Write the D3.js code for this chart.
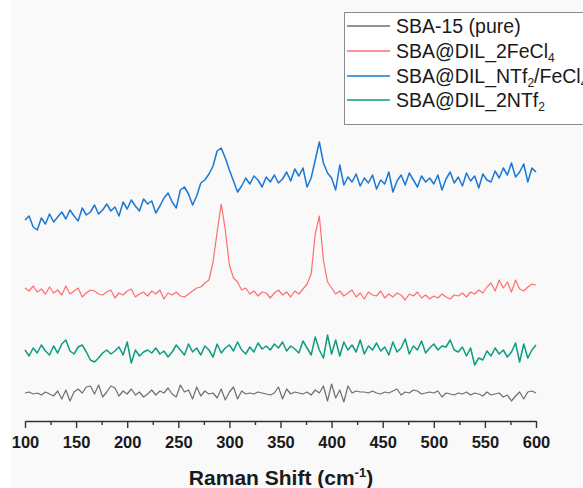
<!DOCTYPE html>
<html>
<head>
<meta charset="utf-8">
<script src="https://cdn.jsdelivr.net/npm/d3@7"></script>
<style>
  body { margin: 0; background: #fff; }
  svg { display: block; font-family: "Liberation Sans", Arial, sans-serif; }
</style>
</head>
<body>
<svg id="chart"></svg>
<script>
// Variables
var width = 583;
var height = 488;

// Raman shift axis (cm-1), sampled every 4 cm-1 from 100 to 600
var shiftStart = 100;
var shiftStep = 4;
var tickLabels = [100, 150, 200, 250, 300, 350, 400, 450, 500, 550, 600];
var minorTicks = [125, 175, 225, 275, 325, 375, 425, 475, 525, 575];

// intensities (a.u., offset spectra)
var sbaPure = [
  37, 38, 36, 37, 35, 38, 36, 34, 39, 31,
  40, 29, 38, 41, 37, 43, 44, 36, 45, 33,
  38, 44, 42, 34, 39, 36, 41, 35, 38, 33,
  36, 40, 35, 39, 37, 42, 36, 33, 45, 38,
  40, 31, 43, 34, 39, 36, 37, 32, 41, 30,
  38, 43, 31, 39, 36, 37, 36, 38, 37, 36,
  35, 37, 43, 31, 41, 36, 38, 37, 36, 38,
  35, 40, 37, 44, 29, 46, 32, 40, 28, 44,
  37, 39, 38, 38, 37, 39, 37, 36, 38, 37,
  39, 41, 35, 38, 37, 40, 39, 36, 37, 38,
  37, 39, 33, 37, 36, 35, 37, 36, 38, 35,
  37, 36, 34, 38, 35, 36, 37, 33, 35, 29,
  34, 38, 31, 38, 39, 37
];
var sbaFeCl4 = [
  142, 139, 144, 138, 141, 136, 143, 137, 140, 135,
  144, 136, 139, 142, 133, 137, 140, 139, 136, 135,
  138, 140, 132, 137, 135, 139, 141, 133, 136, 138,
  134, 139, 136, 140, 131, 137, 135, 138, 134, 133,
  136, 139, 142, 143, 147, 150, 168, 198, 226, 200,
  165, 152, 148, 140, 142, 136, 139, 134, 138, 137,
  132, 137, 140, 135, 138, 133, 139, 136, 141, 146,
  156, 196, 214, 170, 148, 142, 136, 139, 134, 137,
  140, 133, 137, 131, 138, 135, 134, 139, 132, 136,
  133, 137, 135, 130, 136, 134, 138, 132, 135, 131,
  134, 132, 136, 133, 131, 135, 134, 137, 133, 138,
  136, 140, 137, 143, 147, 139, 150, 142, 148, 138,
  150, 141, 139, 143, 146, 145
];
var sbaNTf2FeCl4 = [
  210, 214, 203, 200, 212, 206, 216, 208, 213, 218,
  211, 220, 214, 209, 222, 215, 218, 225, 216, 220,
  226, 219, 223, 214, 228, 221, 230, 224, 219, 231,
  226, 229, 217, 224, 232, 237, 228, 222, 240, 243,
  236, 225, 234, 247, 250, 256, 264, 279, 282, 272,
  260, 249, 238, 244, 252, 246, 254, 250, 243, 253,
  248, 255, 247, 251, 258, 249, 261, 254, 262, 243,
  252, 270, 288, 267, 257, 252, 240, 265, 245, 253,
  248, 256, 244, 252, 247, 255, 241, 250, 246, 258,
  238, 249, 255, 245, 257, 250, 243, 254, 248, 252,
  246, 255, 240, 251, 258, 247, 253, 244, 257, 249,
  254, 242, 256, 250, 248, 259, 252, 262, 255, 267,
  253, 258, 266, 248, 262, 258
];
var sba2NTf2 = [
  80, 74, 82, 77, 85, 79, 75, 84, 77, 86,
  90, 79, 76, 83, 85, 78, 70, 68, 72, 77,
  80, 76, 79, 83, 75, 88, 67, 80, 74, 78,
  80, 77, 82, 76, 79, 73, 78, 85, 80, 75,
  86, 78, 82, 75, 84, 80, 73, 86, 77, 82,
  85, 79, 88, 80, 76, 83, 78, 87, 81, 84,
  80, 86, 82, 88, 79, 84, 81, 77, 89, 82,
  75, 93, 80, 72, 95, 76, 90, 74, 88, 80,
  85, 78, 90, 76, 84, 80, 87, 79, 83, 75,
  88, 78, 82, 91, 76, 84, 80, 89, 77, 82,
  86, 80, 84, 83, 90, 80, 78, 83, 74, 82,
  65, 72, 70, 79, 74, 82, 76, 80, 73, 78,
  87, 68, 86, 72, 80, 85
];

var seriesNames = [
  [{t: 'SBA-15 (pure)'}],
  [{t: 'SBA@DIL_2FeCl'}, {t: '4', sub: true}],
  [{t: 'SBA@DIL_NTf'}, {t: '2', sub: true}, {t: '/FeCl'}, {t: '4', sub: true}],
  [{t: 'SBA@DIL_2NTf'}, {t: '2', sub: true}]
];
var seriesValues = [sbaPure, sbaFeCl4, sbaNTf2FeCl4, sba2NTf2];
var seriesColors = ['#6e6e6e', '#ff6e6e', '#1a78d2', '#0e9c7e'];
var seriesWidths = [1.2, 1.2, 1.5, 1.5];

var svg = d3.select('#chart')
    .attr('width', width)
    .attr('height', height);

// light plot background
svg.append('rect')
    .attr('x', 11).attr('y', 0)
    .attr('width', width - 11).attr('height', height)
    .attr('fill', '#f9f9f9');

var x = d3.scaleLinear().domain([100, 600]).range([25, 536]);
var y = d3.scaleLinear().domain([0, 430]).range([430, 0]);

var line = d3.line()
    .x(function(d, i) { return x(shiftStart + i * shiftStep); })
    .y(function(d) { return y(d); });

// spectra
svg.selectAll('path.spectrum')
    .data(seriesValues)
    .enter().append('path')
    .attr('class', 'spectrum')
    .attr('d', line)
    .attr('fill', 'none')
    .attr('stroke', function(d, i) { return seriesColors[i]; })
    .attr('stroke-width', function(d, i) { return seriesWidths[i]; })
    .attr('stroke-linejoin', 'round');

// x axis
var axisY = 421;
var gx = svg.append('g')
    .attr('transform', 'translate(0,' + axisY + ')')
    .call(d3.axisBottom(x).tickValues(tickLabels).tickSize(7).tickSizeOuter(0).tickPadding(8));
gx.selectAll('text')
    .attr('font-size', 16.5)
    .attr('font-weight', 'bold')
    .attr('font-family', '"Liberation Sans", Arial, sans-serif')
    .attr('fill', '#1a1a1a');
gx.select('.domain').attr('stroke', '#333').attr('stroke-width', 1.4);
gx.selectAll('.tick line').attr('stroke', '#333').attr('stroke-width', 1.4);

var gm = svg.append('g')
    .attr('transform', 'translate(0,' + axisY + ')')
    .call(d3.axisBottom(x).tickValues(minorTicks).tickSize(4).tickFormat(''));
gm.select('.domain').remove();
gm.selectAll('.tick line').attr('stroke', '#333').attr('stroke-width', 1.4);

// axis title
var title = svg.append('text')
    .attr('x', 281)
    .attr('y', 485)
    .attr('text-anchor', 'middle')
    .attr('font-size', 21)
    .attr('font-weight', 'bold')
    .attr('fill', '#1a1a1a');
title.append('tspan').text('Raman Shift (cm');
title.append('tspan').attr('font-size', 13).attr('dy', -8).text('-1');
title.append('tspan').attr('dy', 8).text(')');

// legend
var legend = svg.append('g');
legend.append('rect')
    .attr('x', 344.5).attr('y', 12.5)
    .attr('width', 260).attr('height', 112)
    .attr('fill', '#fff')
    .attr('stroke', '#8a8a8a')
    .attr('stroke-width', 1);

var rowY = [26, 51, 76, 100];
seriesNames.forEach(function(parts, i) {
  legend.append('line')
      .attr('x1', 347).attr('x2', 390)
      .attr('y1', rowY[i]).attr('y2', rowY[i])
      .attr('stroke', seriesColors[i])
      .attr('stroke-width', 1.3);
  var t = legend.append('text')
      .attr('x', 396)
      .attr('y', rowY[i] + 7)
      .attr('font-size', 19.5)
      .attr('fill', '#1a1a1a');
  var shifted = false;
  parts.forEach(function(p) {
    var s = t.append('tspan').text(p.t);
    if (p.sub) {
      s.attr('font-size', 12).attr('dy', 4);
      shifted = true;
    } else if (shifted) {
      s.attr('dy', -4);
      shifted = false;
    }
  });
});
</script>
</body>
</html>
